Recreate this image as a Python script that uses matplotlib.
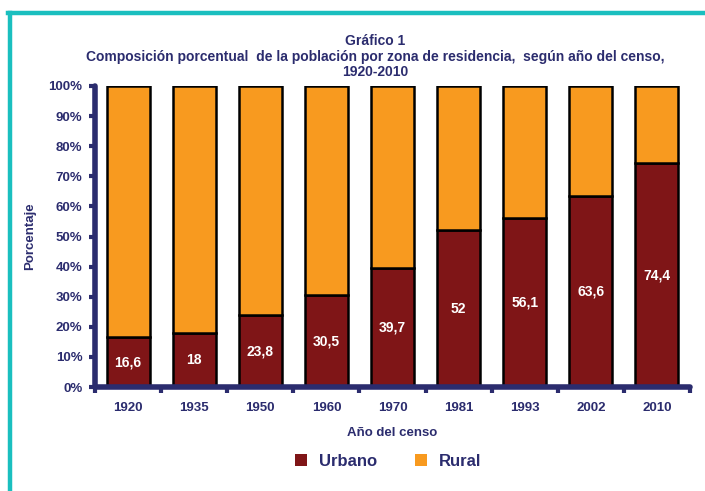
import matplotlib
matplotlib.use("Agg")
import matplotlib.pyplot as plt
from matplotlib.lines import Line2D
from matplotlib.patches import Patch

plt.rcParams['font.family'] = ['Liberation Sans', 'DejaVu Sans']

years = ['1920', '1935', '1950', '1960', '1970', '1981', '1993', '2002', '2010']
urbano = [16.6, 18, 23.8, 30.5, 39.7, 52, 56.1, 63.6, 74.4]
urbano_labels = ['16,6', '18', '23,8', '30,5', '39,7', '52', '56,1', '63,6', '74,4']
rural = [100 - u for u in urbano]
yticks = [0, 10, 20, 30, 40, 50, 60, 70, 80, 90, 100]

NAVY = '#2b2c6e'
URB = '#7f1517'
RUR = '#f89a1f'
TEAL = '#1abfbf'

fig = plt.figure(figsize=(7.05, 4.91), dpi=100)

# teal frame
fig.add_artist(Line2D([8/705, 1.0], [1-13/491, 1-13/491], color=TEAL, lw=3.2, transform=fig.transFigure))
fig.add_artist(Line2D([10/705, 10/705], [0, 1-13/491], color=TEAL, lw=3.2, transform=fig.transFigure))

ax = fig.add_axes([95/705, 1-387/491, (690-95)/705, (387-86)/491])
x = list(range(len(years)))
ax.bar(x, urbano, width=0.65, color=URB, edgecolor='black', linewidth=1.8, zorder=2)
ax.bar(x, rural, width=0.65, bottom=urbano, color=RUR, edgecolor='black', linewidth=1.8, zorder=2)

for xi, u, lab in zip(x, urbano, urbano_labels):
    ax.text(xi, u / 2, lab, ha='center', va='center', color='white',
            fontsize=10, fontweight='bold', zorder=3)

ax.set_xlim(-0.5, len(years) - 0.5)
ax.set_ylim(0, 100)
ax.set_yticks(yticks)
ax.set_yticklabels([f'{t}%' for t in yticks])
ax.set_xticks([i - 0.5 for i in range(len(years) + 1)], minor=False)
ax.set_xticklabels([])
ax.set_xticks(x, minor=True)
ax.set_xticklabels(years, minor=True)
ax.tick_params(axis='x', which='minor', length=0, pad=11, labelsize=9.5, labelcolor=NAVY)
ax.tick_params(axis='x', which='major', length=4, width=3, color=NAVY, direction='out')
ax.tick_params(axis='y', length=4, width=3, color=NAVY, labelsize=9.5, labelcolor=NAVY, pad=5)
for lab in ax.get_xticklabels(minor=True) + ax.get_yticklabels():
    lab.set_fontweight('bold')

for s in ['top', 'right']:
    ax.spines[s].set_visible(False)
for s in ['left', 'bottom']:
    ax.spines[s].set_color(NAVY)
    ax.spines[s].set_linewidth(4)
    ax.spines[s].set_capstyle('round')
    ax.spines[s].set_zorder(4)

ax.set_xlabel('Año del censo', fontsize=9.5, fontweight='bold', color=NAVY, labelpad=9)
ax.set_ylabel('Porcentaje', fontsize=9.5, fontweight='bold', color=NAVY, labelpad=9)

cx = 375/705
fig.text(cx, 1-41/491, 'Gráfico 1', ha='center', va='center',
         fontsize=10, fontweight='bold', color=NAVY)
fig.text(cx, 1-57/491,
         'Composición porcentual  de la población por zona de residencia,  según año del censo,',
         ha='center', va='center', fontsize=10, fontweight='bold', color=NAVY)
fig.text(cx, 1-72/491, '1920-2010', ha='center', va='center',
         fontsize=10, fontweight='bold', color=NAVY)

handles = [Patch(facecolor=URB, edgecolor='none'), Patch(facecolor=RUR, edgecolor='none')]
leg = fig.legend(handles, ['Urbano', 'Rural'], loc='center', bbox_to_anchor=(388/705, 1-461/491),
                 ncol=2, frameon=False, handlelength=0.7, handleheight=0.7,
                 columnspacing=2.3, handletextpad=0.7,
                 prop={'size': 12, 'weight': 'bold'})
for t in leg.get_texts():
    t.set_color(NAVY)

fig.savefig('out.png', dpi=100)
